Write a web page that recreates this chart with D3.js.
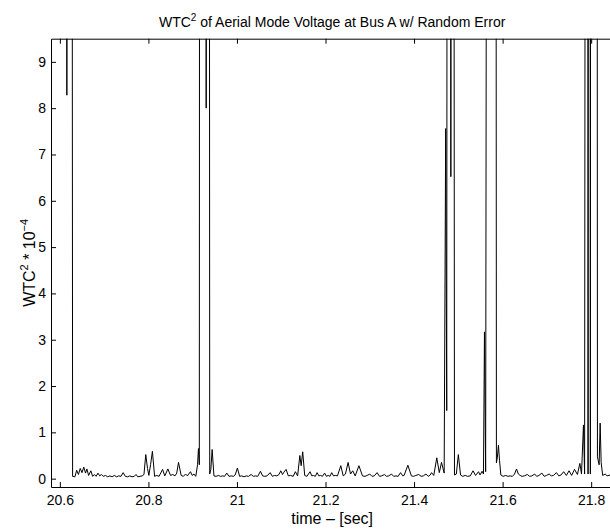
<!DOCTYPE html>
<html>
<head>
<meta charset="utf-8">
<script src="https://cdn.jsdelivr.net/npm/d3@7"></script>
<style>
  body { margin: 0; background: #fff; }
  text { font-family: "Liberation Sans", Arial, Helvetica, sans-serif; fill: #000; }
</style>
</head>
<body>
<svg></svg>
<script>
// time in seconds
const time = [
  20.578, 20.612, 20.6158, 20.6195, 20.626, 20.6288, 20.634, 20.638, 20.642, 20.646,
  20.650, 20.654, 20.658, 20.661, 20.665, 20.670, 20.674, 20.678, 20.682, 20.686,
  20.690, 20.694, 20.698, 20.703, 20.708, 20.713, 20.718, 20.723, 20.728, 20.733,
  20.738, 20.743, 20.748, 20.753, 20.758, 20.763, 20.768, 20.772, 20.776, 20.781,
  20.786, 20.790, 20.794, 20.798, 20.801, 20.805, 20.809, 20.814, 20.819, 20.824,
  20.832, 20.837, 20.844, 20.850, 20.855, 20.860, 20.864, 20.868, 20.874, 20.879,
  20.884, 20.888, 20.895, 20.899, 20.903, 20.907, 20.911, 20.913, 20.915, 20.9165,
  20.9295, 20.9305, 20.9315, 20.9365, 20.9385, 20.941, 20.944, 20.948, 20.953, 20.958,
  20.963, 20.968, 20.972, 20.977, 20.982, 20.987, 20.992, 20.996, 21.001, 21.006,
  21.011, 21.016, 21.021, 21.026, 21.032, 21.037, 21.042, 21.047, 21.053, 21.058,
  21.063, 21.068, 21.075, 21.080, 21.085, 21.090, 21.095, 21.099, 21.103, 21.106,
  21.111, 21.116, 21.121, 21.127, 21.132, 21.137, 21.142, 21.145, 21.1485, 21.153,
  21.158, 21.165, 21.169, 21.173, 21.177, 21.181, 21.185, 21.189, 21.193, 21.198,
  21.202, 21.206, 21.210, 21.214, 21.218, 21.222, 21.227, 21.2345, 21.240, 21.245,
  21.251, 21.2565, 21.2615, 21.267, 21.2755, 21.2835, 21.289, 21.294, 21.300, 21.305,
  21.310, 21.3165, 21.322, 21.327, 21.333, 21.338, 21.343, 21.349, 21.354, 21.359,
  21.364, 21.3695, 21.3745, 21.3775, 21.386, 21.394, 21.399, 21.404, 21.4105, 21.416,
  21.421, 21.427, 21.432, 21.4365, 21.4395, 21.4445, 21.4513, 21.457, 21.462, 21.468,
  21.4714, 21.4738, 21.476, 21.4815, 21.4831, 21.4847, 21.488, 21.4913, 21.4955, 21.500,
  21.505, 21.510, 21.5155, 21.521, 21.527, 21.5332, 21.539, 21.5455, 21.549, 21.5537,
  21.5568, 21.559, 21.5617, 21.567, 21.5838, 21.586, 21.588, 21.5906, 21.593, 21.596,
  21.601, 21.6069, 21.612, 21.617, 21.622, 21.627, 21.6314, 21.6355, 21.6396, 21.644,
  21.649, 21.656, 21.661, 21.666, 21.6724, 21.677, 21.682, 21.6887, 21.694, 21.699,
  21.7051, 21.710, 21.715, 21.7215, 21.727, 21.732, 21.7379, 21.744, 21.7501, 21.7559,
  21.7624, 21.769, 21.7745, 21.7782, 21.7826, 21.7852, 21.7887, 21.7918, 21.793, 21.7945,
  21.7968, 21.7982, 21.7995, 21.8124, 21.8142, 21.818, 21.8203, 21.8226, 21.826, 21.8316,
  21.836, 21.843, 21.855
];

// WTC^2 in units of 1e-4 (values above 9.5 run off the top of the axes)
const wtc = [
  40, 40, 8.28, 40, 40, 0.05, 0.04, 0.18, 0.09, 0.22,
  0.13, 0.25, 0.12, 0.21, 0.07, 0.17, 0.05, 0.09, 0.05, 0.12,
  0.06, 0.09, 0.05, 0.07, 0.04, 0.06, 0.04, 0.07, 0.04, 0.06,
  0.05, 0.13, 0.05, 0.04, 0.06, 0.04, 0.05, 0.09, 0.04, 0.05,
  0.06, 0.09, 0.52, 0.22, 0.07, 0.31, 0.59, 0.05, 0.07, 0.05,
  0.2, 0.06, 0.21, 0.07, 0.09, 0.06, 0.12, 0.35, 0.07, 0.05,
  0.1, 0.06, 0.15, 0.07, 0.1, 0.05, 0.3, 0.65, 0.3, 40,
  40, 8.0, 40, 40, 0.1, 0.2, 0.63, 0.06, 0.05, 0.07,
  0.05, 0.06, 0.05, 0.12, 0.05, 0.06, 0.05, 0.08, 0.23, 0.05,
  0.06, 0.04, 0.06, 0.05, 0.09, 0.05, 0.06, 0.05, 0.16, 0.06,
  0.05, 0.06, 0.13, 0.05, 0.07, 0.06, 0.09, 0.17, 0.09, 0.14,
  0.2, 0.06, 0.07, 0.05, 0.15, 0.06, 0.5, 0.28, 0.58, 0.07,
  0.05, 0.15, 0.06, 0.07, 0.05, 0.13, 0.06, 0.07, 0.05, 0.12,
  0.05, 0.07, 0.05, 0.13, 0.06, 0.07, 0.06, 0.28, 0.06, 0.1,
  0.35, 0.1, 0.17, 0.06, 0.28, 0.06, 0.05, 0.07, 0.1, 0.05,
  0.06, 0.13, 0.05, 0.06, 0.09, 0.05, 0.06, 0.1, 0.05, 0.06,
  0.05, 0.13, 0.06, 0.07, 0.29, 0.06, 0.05, 0.07, 0.09, 0.05,
  0.06, 0.1, 0.05, 0.08, 0.13, 0.07, 0.45, 0.13, 0.35, 0.12,
  7.56, 1.47, 40, 40, 6.52, 40, 40, 0.08, 0.1, 0.52,
  0.08, 0.05, 0.07, 0.05, 0.06, 0.17, 0.07, 0.15, 0.08, 0.16,
  0.1, 3.17, 0.15, 40, 40, 0.34, 0.45, 0.72, 0.4, 0.08,
  0.05, 0.07, 0.05, 0.06, 0.05, 0.1, 0.21, 0.1, 0.07, 0.05,
  0.06, 0.09, 0.05, 0.06, 0.1, 0.05, 0.07, 0.12, 0.05, 0.07,
  0.1, 0.06, 0.07, 0.13, 0.06, 0.08, 0.15, 0.07, 0.17, 0.07,
  0.2, 0.09, 0.33, 0.1, 1.16, 0.1, 40, 40, 0.1, 40,
  40, 0.1, 40, 40, 0.47, 0.3, 1.2, 0.35, 0.07, 0.1,
  0.06, 0.08, 0.05
];

const xTicks = [20.6, 20.8, 21, 21.2, 21.4, 21.6, 21.8];
const yTicks = [0, 1, 2, 3, 4, 5, 6, 7, 8, 9];

const W = 610, H = 529;
const margin = { top: 38.7, right: -3.3, bottom: 42, left: 51 },
  width = W - margin.left - margin.right,
  height = H - margin.top - margin.bottom;

const svg = d3.select("svg").attr("width", W).attr("height", H);

svg.append("rect").attr("width", W).attr("height", H).attr("fill", "#fff");

const g = svg
  .append("g")
  .attr("transform", "translate(" + margin.left + "," + margin.top + ")");

const x = d3.scaleLinear().domain([20.58, 21.85]).range([0, width]);
const y = d3.scaleLinear().domain([-0.18, 9.5]).range([height, 0]);

g.append("clipPath")
  .attr("id", "clip")
  .append("rect")
  .attr("width", width)
  .attr("height", height);

const points = time.map(function (t, i) {
  return [t, wtc[i]];
});

const line = d3
  .line()
  .x(function (d) { return x(d[0]); })
  .y(function (d) { return y(d[1]); });

g.append("path")
  .datum(points)
  .attr("clip-path", "url(#clip)")
  .attr("fill", "none")
  .attr("stroke", "#000")
  .attr("stroke-width", 1)
  .attr("d", line);

// matlab style axes: ticks pointing in, ticks mirrored on top
const tickLen = 5;
const fmt = function (d) { return String(d); };

const xAxis = d3.axisBottom(x).tickValues(xTicks).tickFormat(fmt)
  .tickSizeInner(-tickLen).tickSizeOuter(0).tickPadding(8);
const xAxisTop = d3.axisTop(x).tickValues(xTicks).tickFormat("")
  .tickSizeInner(-tickLen).tickSizeOuter(0);
const yAxis = d3.axisLeft(y).tickValues(yTicks).tickFormat(fmt)
  .tickSizeInner(-tickLen).tickSizeOuter(0).tickPadding(5);

g.append("g").attr("class", "x axis")
  .attr("transform", "translate(0," + height + ")").call(xAxis);
g.append("g").attr("class", "x axis top").call(xAxisTop);
g.append("g").attr("class", "y axis").call(yAxis);

g.selectAll(".axis path").attr("stroke", "#000").attr("stroke-width", 1);
g.selectAll(".axis line").attr("stroke", "#000").attr("stroke-width", 1);
g.selectAll(".axis text")
  .style("font-size", "14px")
  .style("font-family", "'Liberation Sans', Arial, sans-serif")
  .attr("fill", "#000");

// title
const title = svg.append("text")
  .attr("x", margin.left + width / 2)
  .attr("y", 27)
  .attr("text-anchor", "middle")
  .style("font-size", "14px");
title.append("tspan").text("WTC");
title.append("tspan").attr("dy", -6).style("font-size", "10px").text("2");
title.append("tspan").attr("dy", 6).text(" of Aerial Mode Voltage at Bus A w/ Random Error");

// x label
svg.append("text")
  .attr("x", margin.left + width / 2)
  .attr("y", 524)
  .attr("text-anchor", "middle")
  .style("font-size", "16px")
  .text("time \u2013 [sec]");

// y label
const ylab = svg.append("text")
  .attr("transform", "translate(35," + (margin.top + height / 2) + ") rotate(-90)")
  .attr("text-anchor", "middle")
  .style("font-size", "16px");
ylab.append("tspan").text("WTC");
ylab.append("tspan").attr("dy", -7).style("font-size", "11px").text("2");
ylab.append("tspan").attr("dy", 7).text(" * 10");
ylab.append("tspan").attr("dy", -7).style("font-size", "11px").text("\u22124");
</script>
</body>
</html>
